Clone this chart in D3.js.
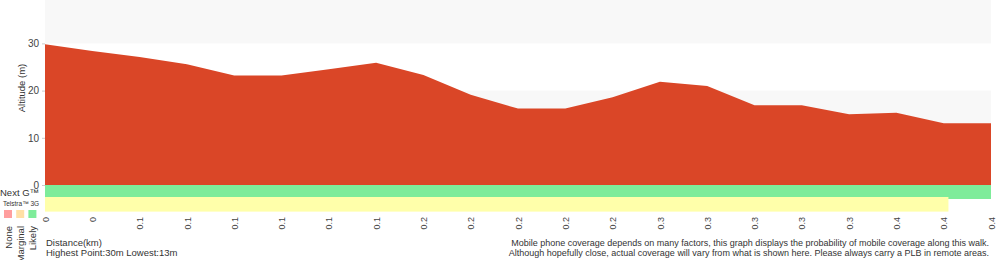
<!DOCTYPE html>
<html>
<head>
<meta charset="utf-8">
<script src="https://cdn.jsdelivr.net/npm/d3@7"></script>
<style>
  body { margin: 0; background: #fff; }
  text { font-family: "Liberation Sans", Arial, sans-serif; fill: #333; }
</style>
</head>
<body>
<div id="chart"></div>
<script>
// altitude (m) at each sample along the walk
var altitude = [29.8, 28.4, 27.1, 25.6, 23.2, 23.2, 24.5, 25.9, 23.3, 19.1, 16.2,
                16.2, 18.6, 21.9, 21.0, 16.9, 16.9, 15.0, 15.3, 13.1, 13.1]
// distance labels (km) as printed under each sample
var distLabels = ['0', '0', '0.1', '0.1', '0.1', '0.1', '0.1', '0.1', '0.2', '0.2', '0.2',
                  '0.2', '0.2', '0.3', '0.3', '0.3', '0.3', '0.3', '0.4', '0.4', '0.4']
var yTicks = [0, 10, 20, 30]
// coverage segments, in sample index units
var nextG = [{from: 0, to: 20, level: 'Likely'}]
var telstra3G = [{from: 0, to: 19.1, level: 'Marginal'}]
var levels = ['None', 'Marginal', 'Likely']

var width = 1000, height = 260
var left = 45, right = 991

var svg = d3.select('#chart').append('svg')
  .attr('width', width)
  .attr('height', height)

var x = d3.scaleLinear().domain([0, altitude.length - 1]).range([left, right])
var y = d3.scaleLinear().domain([0, 30]).range([185, 43.4])

var bandColor = d3.scaleOrdinal()
  .domain(levels)
  .range(['#ff9e9e', '#ffe0a6', '#7eec9a'])
var stripColor = {Likely: '#7eec9a', Marginal: '#ffffaa', None: '#ff9e9e'}

// alternating background bands
svg.selectAll('.band')
  .data([[10, 20], [30, 40]])
  .enter().append('rect')
    .attr('x', left)
    .attr('width', right - left)
    .attr('y', function(d) { return y(d[1]) })
    .attr('height', function(d) { return y(d[0]) - y(d[1]) })
    .attr('fill', '#f8f8f8')

// elevation profile
var area = d3.area()
  .x(function(d, i) { return x(i) })
  .y0(y(0))
  .y1(function(d) { return y(d) })

svg.append('path')
  .datum(altitude)
  .attr('d', area)
  .attr('fill', '#da4627')

// coverage strips
svg.selectAll('.nextg')
  .data(nextG)
  .enter().append('rect')
    .attr('x', function(d) { return x(d.from) })
    .attr('width', function(d) { return x(d.to) - x(d.from) })
    .attr('y', 185)
    .attr('height', 14)
    .attr('fill', function(d) { return stripColor[d.level] })

svg.selectAll('.tel3g')
  .data(telstra3G)
  .enter().append('rect')
    .attr('x', function(d) { return x(d.from) })
    .attr('width', function(d) { return x(d.to) - x(d.from) })
    .attr('y', 197)
    .attr('height', 14.6)
    .attr('fill', function(d) { return stripColor[d.level] })

// y axis
var yAxis = svg.append('g')
  .attr('transform', 'translate(' + left + ',0)')
  .call(d3.axisLeft(y).tickValues(yTicks).tickSize(3).tickPadding(3))
yAxis.select('.domain').remove()
yAxis.selectAll('line').attr('stroke', '#ccc')
yAxis.selectAll('text').style('font-size', '10px').style('fill', '#444')
  .style('font-family', '"Liberation Sans", Arial, sans-serif')

svg.append('text')
  .attr('transform', 'translate(25,88) rotate(-90)')
  .style('text-anchor', 'middle')
  .style('font-size', '9.5px')
  .text('Altitude (m)')

// x axis labels
var xAxis = svg.append('g')
  .attr('transform', 'translate(0,212)')
  .call(d3.axisBottom(x)
    .tickValues(d3.range(distLabels.length))
    .tickFormat(function(i) { return distLabels[i] })
    .tickSize(0))
xAxis.select('.domain').remove()
xAxis.selectAll('text')
  .attr('transform', 'rotate(-90)')
  .attr('x', -5)
  .attr('y', 0)
  .attr('dy', '0.35em')
  .style('text-anchor', 'end')
  .style('font-size', '9px')
  .style('fill', '#444')
  .style('font-family', '"Liberation Sans", Arial, sans-serif')

// strip labels + legend
svg.append('text').attr('x', 0).attr('y', 196).style('font-size', '9.5px').text('Next G™')
svg.append('text').attr('x', 3).attr('y', 206).style('font-size', '6.5px').text('Telstra™ 3G')

svg.selectAll('.key')
  .data(levels)
  .enter().append('rect')
    .attr('x', function(d, i) { return 4 + i * 12.2 })
    .attr('y', 210)
    .attr('width', 8)
    .attr('height', 8)
    .attr('fill', function(d) { return bandColor(d) })

svg.selectAll('.keylab')
  .data(levels)
  .enter().append('text')
    .attr('transform', function(d, i) { return 'translate(' + (11.5 + i * 12.2) + ',226) rotate(-90)' })
    .style('text-anchor', 'end')
    .style('font-size', '9.5px')
    .text(function(d) { return d })

// footer notes
svg.append('text').attr('x', 46).attr('y', 246).style('font-size', '9.5px').text('Distance(km)')
svg.append('text').attr('x', 46).attr('y', 256).style('font-size', '9.5px').text('Highest Point:30m Lowest:13m')
svg.append('text').attr('x', 989).attr('y', 246).style('font-size', '9px').style('text-anchor', 'end')
  .text('Mobile phone coverage depends on many factors, this graph displays the probability of mobile coverage along this walk.')
svg.append('text').attr('x', 989).attr('y', 256).style('font-size', '9px').style('text-anchor', 'end')
  .text('Although hopefully close, actual coverage will vary from what is shown here. Please always carry a PLB in remote areas.')
</script>
</body>
</html>
